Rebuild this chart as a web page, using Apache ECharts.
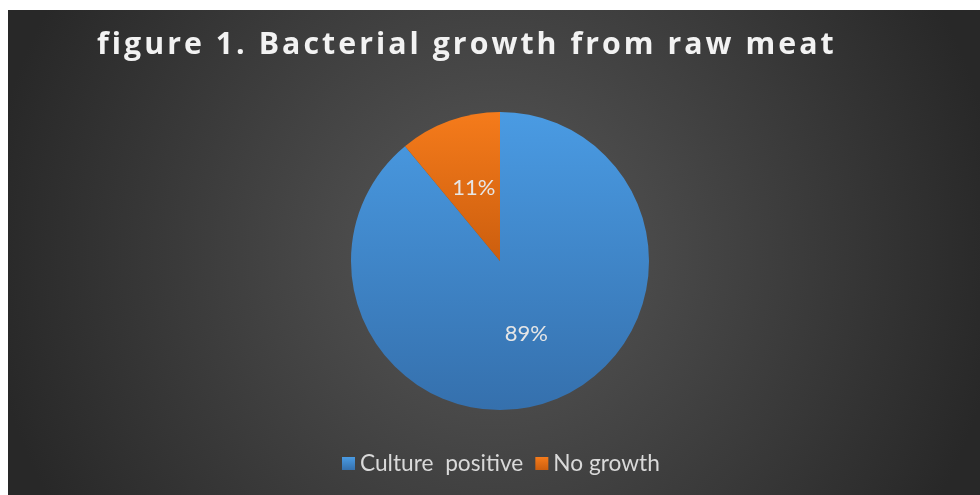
<!DOCTYPE html>
<html><head><meta charset="utf-8">
<script src="https://cdn.jsdelivr.net/npm/echarts@6/dist/echarts.min.js"></script>
<style>
html,body{margin:0;padding:0;background:#fff;width:980px;height:495px;overflow:hidden;}
#c{position:absolute;left:8px;top:10px;width:972px;height:485px;}
</style></head>
<body><div id="c"></div>
<script>
const titleText = 'figure 1. Bacterial growth from raw meat';
const categories = ['Culture  positive', 'No growth'];
const values = [89, 11];
const sliceColors = [['#4a9be3', '#3570ad'], ['#f57b1b', '#cc5e0e']];

const spaced = titleText.split('').join('\u200A');
const chart = echarts.init(document.getElementById('c'), null, {renderer: 'canvas'});
const grad = (c) => ({type: 'linear', x: 0, y: 0, x2: 0, y2: 1, colorStops: [{offset: 0, color: c[0]}, {offset: 1, color: c[1]}]});
chart.setOption({
  animation: false,
  backgroundColor: {type: 'radial', x: 0.5, y: 0.5, r: 1.05, colorStops: [{offset: 0, color: '#585858'}, {offset: 1, color: '#282828'}]},
  title: {
    text: spaced, left: 84, top: 15,
    textStyle: {fontFamily: 'Open Sans', fontWeight: 'bold', fontSize: 30.3, color: '#f2f2f2'}
  },
  legend: {
    bottom: 15, left: 329, itemWidth: 13, itemHeight: 13, itemGap: 12, icon: 'rect',
    data: categories,
    textStyle: {fontFamily: 'Lato', fontSize: 22.7, color: '#d9d9d9', padding: [0, 0, 0, 0]}
  },
  series: [{
    type: 'pie', center: [492, 251], radius: [0, 149], startAngle: 90, clockwise: true,
    label: {show: true, position: 'inside', formatter: '{d}%', fontFamily: 'Lato', fontSize: 22, color: '#e6e6e6'},
    labelLine: {show: false},
    emphasis: {disabled: true},
    data: categories.map((n, i) => ({name: n, value: values[i], itemStyle: {color: grad(sliceColors[i])}}))
  }]
});
</script></body></html>
